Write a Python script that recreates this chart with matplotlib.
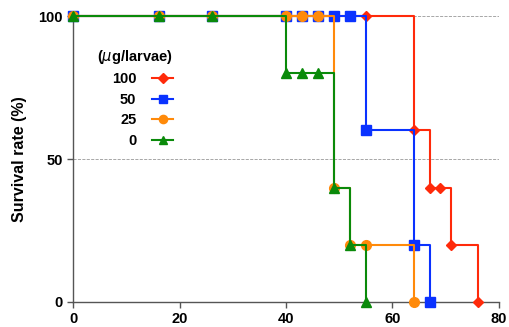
import numpy as np
import matplotlib
matplotlib.use("Agg")
import matplotlib.pyplot as plt

plt.rcParams['font.family'] = ['Liberation Sans', 'DejaVu Sans']

# survival data (days, % alive) per dose
t_100 = [0, 16, 26, 40, 43, 46, 49, 52, 55, 64, 67, 69, 71, 76]
s_100 = [100, 100, 100, 100, 100, 100, 100, 100, 100, 60, 40, 40, 20, 0]
t_50 = [0, 16, 26, 40, 43, 46, 49, 52, 55, 64, 67]
s_50 = [100, 100, 100, 100, 100, 100, 100, 100, 60, 20, 0]
t_25 = [0, 16, 26, 40, 43, 46, 49, 52, 55, 64]
s_25 = [100, 100, 100, 100, 100, 100, 40, 20, 20, 0]
t_0 = [0, 16, 26, 40, 43, 46, 49, 52, 55]
s_0 = [100, 100, 100, 80, 80, 80, 40, 20, 0]

labels = ['100', '50', '25', '0']
x_ticks = [0, 20, 40, 60, 80]
y_ticks = [0, 50, 100]

series = [(t_100, s_100, '#ff2a0a', 'D', 5.5),
          (t_50, s_50, '#0a32ff', 's', 6.5),
          (t_25, s_25, '#ff8a0a', 'o', 7),
          (t_0, s_0, '#0a8a0a', '^', 7)]

fig = plt.figure(figsize=(5.09, 3.27), dpi=100)
ax = fig.add_axes([0.1444, 0.0765, 0.8356, 0.8745])

handles = []
for i, (t, s, c, m, ms) in enumerate(series):
    ax.step(t, s, where='post', color=c, lw=1.5, zorder=3 + i, clip_on=False)
    ax.plot(t, s, ls='none', marker=m, color=c, ms=ms, zorder=3 + i, clip_on=False)
    h, = ax.plot([], [], color=c, lw=1.5, marker=m, ms=ms * 0.85)
    handles.append(h)

ax.set_xlim(0, 80)
ax.set_ylim(0, 100)
ax.set_xticks(x_ticks)
ax.set_yticks(y_ticks)
ax.yaxis.grid(True, linestyle='--', color='#999999', lw=0.6)
ax.set_axisbelow(True)
for sp in ['top', 'right']:
    ax.spines[sp].set_visible(False)
for sp in ['left', 'bottom']:
    ax.spines[sp].set_color('#555555')
    ax.spines[sp].set_linewidth(1.0)
ax.tick_params(axis='both', length=4, width=1, color='#555555', labelsize=10.5)
for lab in ax.get_xticklabels() + ax.get_yticklabels():
    lab.set_fontweight('bold')
ax.set_ylabel('Survival rate (%)', fontsize=11.5, fontweight='bold', labelpad=8)

leg = ax.legend(handles, labels, title='($\\mu$g/larvae)', markerfirst=False,
                frameon=False, loc='upper left', bbox_to_anchor=(0.042, 0.91),
                borderaxespad=0, handlelength=1.4, handletextpad=1.1,
                labelspacing=0.45, alignment='right',
                prop={'weight': 'bold', 'size': 10.5})
leg.get_title().set_fontweight('bold')
leg.get_title().set_fontsize(10.5)

fig.savefig('out.png', dpi=100)
